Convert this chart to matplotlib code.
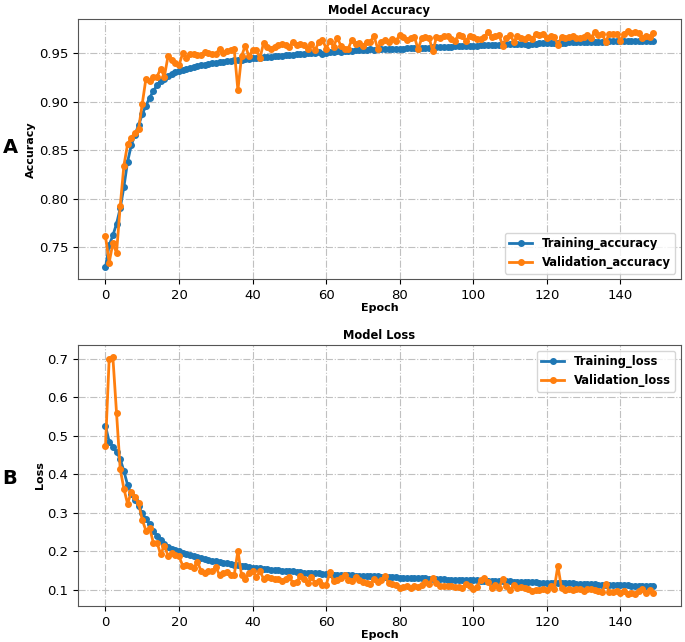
import matplotlib
matplotlib.use("Agg")
import matplotlib.pyplot as plt

# training history values (150 epochs)
epochs = list(range(150))

train_acc = [
    0.729, 0.752, 0.762, 0.774, 0.790, 0.812, 0.838, 0.855, 0.866, 0.876,
    0.887, 0.896, 0.904, 0.911, 0.917, 0.921, 0.924, 0.927, 0.929, 0.931,
    0.932, 0.933, 0.934, 0.935, 0.936, 0.937, 0.938, 0.938, 0.939, 0.940,
    0.940, 0.941, 0.941, 0.942, 0.942, 0.943, 0.943, 0.943, 0.944, 0.944,
    0.945, 0.945, 0.945, 0.946, 0.946, 0.946, 0.947, 0.947, 0.947, 0.948,
    0.948, 0.948, 0.949, 0.949, 0.949, 0.950, 0.950, 0.950, 0.951, 0.949,
    0.950, 0.951, 0.951, 0.952, 0.951, 0.952, 0.952, 0.952, 0.953, 0.953,
    0.953, 0.953, 0.954, 0.953, 0.954, 0.954, 0.954, 0.955, 0.955, 0.955,
    0.955, 0.955, 0.956, 0.956, 0.956, 0.955, 0.956, 0.956, 0.956, 0.957,
    0.957, 0.957, 0.957, 0.957, 0.957, 0.958, 0.958, 0.958, 0.958, 0.958,
    0.958, 0.958, 0.959, 0.959, 0.959, 0.959, 0.959, 0.959, 0.960, 0.960,
    0.960, 0.960, 0.960, 0.960, 0.960, 0.959, 0.960, 0.960, 0.961, 0.961,
    0.961, 0.961, 0.961, 0.961, 0.961, 0.961, 0.962, 0.962, 0.962, 0.962,
    0.962, 0.962, 0.962, 0.962, 0.962, 0.962, 0.962, 0.963, 0.963, 0.963,
    0.963, 0.963, 0.963, 0.963, 0.963, 0.963, 0.963, 0.963, 0.963, 0.963,
]

val_acc = [
    0.761, 0.734, 0.754, 0.744, 0.792, 0.834, 0.856, 0.863, 0.868, 0.872,
    0.898, 0.924, 0.921, 0.926, 0.926, 0.934, 0.926, 0.947, 0.943, 0.940,
    0.938, 0.950, 0.945, 0.949, 0.949, 0.948, 0.948, 0.951, 0.950, 0.949,
    0.949, 0.955, 0.950, 0.952, 0.953, 0.954, 0.912, 0.947, 0.958, 0.947,
    0.953, 0.953, 0.945, 0.961, 0.957, 0.955, 0.957, 0.959, 0.960, 0.959,
    0.957, 0.962, 0.959, 0.960, 0.959, 0.955, 0.960, 0.953, 0.962, 0.964,
    0.955, 0.963, 0.957, 0.966, 0.958, 0.955, 0.955, 0.964, 0.960, 0.961,
    0.958, 0.962, 0.962, 0.968, 0.955, 0.962, 0.964, 0.962, 0.965, 0.963,
    0.969, 0.967, 0.964, 0.966, 0.967, 0.954, 0.966, 0.967, 0.966, 0.952,
    0.967, 0.966, 0.968, 0.968, 0.965, 0.963, 0.969, 0.968, 0.963, 0.968,
    0.967, 0.965, 0.965, 0.967, 0.972, 0.967, 0.968, 0.969, 0.958, 0.966,
    0.969, 0.962, 0.968, 0.966, 0.965, 0.967, 0.965, 0.970, 0.969, 0.970,
    0.966, 0.968, 0.967, 0.959, 0.967, 0.966, 0.967, 0.968, 0.966, 0.966,
    0.967, 0.969, 0.966, 0.972, 0.969, 0.970, 0.962, 0.970, 0.970, 0.970,
    0.963, 0.970, 0.973, 0.971, 0.972, 0.971, 0.966, 0.968, 0.967, 0.971,
]

train_loss = [
    0.525, 0.484, 0.471, 0.458, 0.439, 0.408, 0.372, 0.349, 0.333, 0.316,
    0.298, 0.284, 0.269, 0.253, 0.240, 0.229, 0.218, 0.211, 0.205, 0.202,
    0.199, 0.195, 0.192, 0.189, 0.186, 0.184, 0.181, 0.179, 0.177, 0.175,
    0.173, 0.171, 0.169, 0.168, 0.166, 0.165, 0.163, 0.162, 0.161, 0.159,
    0.157, 0.156, 0.155, 0.154, 0.153, 0.152, 0.151, 0.150, 0.149, 0.148,
    0.147, 0.147, 0.146, 0.145, 0.144, 0.144, 0.143, 0.142, 0.142, 0.141,
    0.140, 0.140, 0.139, 0.139, 0.138, 0.138, 0.137, 0.137, 0.136, 0.136,
    0.135, 0.135, 0.135, 0.134, 0.134, 0.133, 0.133, 0.132, 0.132, 0.132,
    0.131, 0.131, 0.131, 0.130, 0.130, 0.129, 0.129, 0.129, 0.128, 0.128,
    0.127, 0.127, 0.127, 0.126, 0.126, 0.126, 0.125, 0.125, 0.125, 0.124,
    0.124, 0.124, 0.123, 0.123, 0.123, 0.122, 0.122, 0.122, 0.121, 0.121,
    0.121, 0.120, 0.120, 0.120, 0.119, 0.119, 0.119, 0.119, 0.118, 0.118,
    0.118, 0.117, 0.117, 0.117, 0.117, 0.116, 0.116, 0.116, 0.115, 0.115,
    0.115, 0.114, 0.114, 0.114, 0.113, 0.113, 0.113, 0.112, 0.112, 0.112,
    0.111, 0.111, 0.111, 0.110, 0.110, 0.110, 0.110, 0.109, 0.109, 0.109,
]

val_loss = [
    0.472, 0.700, 0.705, 0.559, 0.413, 0.362, 0.323, 0.353, 0.340, 0.324,
    0.281, 0.253, 0.260, 0.222, 0.222, 0.192, 0.214, 0.188, 0.195, 0.190,
    0.186, 0.162, 0.163, 0.160, 0.157, 0.172, 0.148, 0.142, 0.148, 0.147,
    0.158, 0.138, 0.142, 0.145, 0.138, 0.138, 0.200, 0.138, 0.128, 0.142,
    0.147, 0.132, 0.147, 0.128, 0.132, 0.130, 0.128, 0.128, 0.122, 0.127,
    0.132, 0.117, 0.120, 0.135, 0.128, 0.117, 0.132, 0.118, 0.122, 0.113,
    0.112, 0.145, 0.122, 0.125, 0.130, 0.137, 0.124, 0.122, 0.133, 0.125,
    0.120, 0.118, 0.115, 0.128, 0.120, 0.125, 0.134, 0.117, 0.115, 0.112,
    0.103, 0.106, 0.108, 0.104, 0.109, 0.106, 0.112, 0.119, 0.115, 0.131,
    0.118, 0.110, 0.109, 0.108, 0.110, 0.106, 0.106, 0.105, 0.115, 0.110,
    0.101, 0.106, 0.126, 0.131, 0.120, 0.104, 0.113, 0.104, 0.128, 0.108,
    0.100, 0.111, 0.103, 0.106, 0.103, 0.101, 0.096, 0.098, 0.098, 0.102,
    0.100, 0.108, 0.101, 0.162, 0.103, 0.100, 0.101, 0.100, 0.102, 0.101,
    0.095, 0.101, 0.101, 0.100, 0.096, 0.094, 0.115, 0.094, 0.093, 0.097,
    0.090, 0.096, 0.088, 0.092, 0.088, 0.095, 0.101, 0.090, 0.100, 0.092,
]


def draw(ax, y1, y2, lab1, lab2, title, ylabel, loc):
    ax.plot(epochs, y1, color='#1f77b4', marker='o', markersize=4, linewidth=2, label=lab1)
    ax.plot(epochs, y2, color='#ff7f0e', marker='o', markersize=4, linewidth=2, label=lab2)
    ax.set_title(title, fontsize=8.3, fontweight='bold', pad=4)
    ax.set_xlabel('Epoch', fontsize=8, fontweight='bold', labelpad=1)
    ax.set_ylabel(ylabel, fontsize=8, fontweight='bold', labelpad=2)
    ax.tick_params(labelsize=9.5)
    ax.grid(True, linestyle='-.', color='#c0c0c0', linewidth=0.8)
    for s in ax.spines.values():
        s.set_color('#555555')
    ax.legend(loc=loc, prop={'weight': 'bold', 'size': 8.3})


fig = plt.figure(figsize=(6.85, 6.42), dpi=100)
ax1 = fig.add_axes([0.114, 0.565, 0.880, 0.405])
ax2 = fig.add_axes([0.114, 0.056, 0.880, 0.407])

draw(ax1, train_acc, val_acc, 'Training_accuracy', 'Validation_accuracy',
     'Model Accuracy', 'Accuracy', 'lower right')
draw(ax2, train_loss, val_loss, 'Training_loss', 'Validation_loss',
     'Model Loss', 'Loss', 'upper right')

fig.text(0.004, 0.77, 'A', fontsize=14, fontweight='bold', va='center')
fig.text(0.004, 0.255, 'B', fontsize=14, fontweight='bold', va='center')

fig.savefig('out.png', dpi=100)
